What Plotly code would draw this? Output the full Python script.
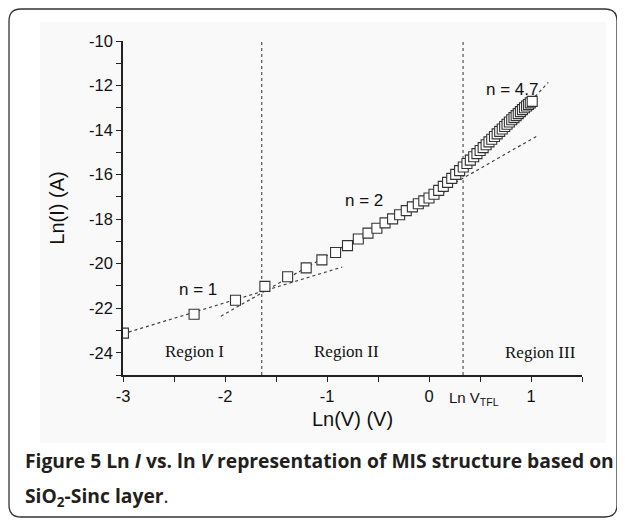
import plotly.graph_objects as go

# ---------------- data ----------------
ln_v = [-2.996, -2.303, -1.897, -1.609, -1.386, -1.204, -1.050, -0.916, -0.799, -0.693,
        -0.598, -0.511, -0.431, -0.357, -0.288, -0.223, -0.163, -0.105, -0.051, 0.000,
        0.049, 0.095, 0.140, 0.182, 0.223, 0.262, 0.300, 0.336, 0.372, 0.405,
        0.438, 0.470, 0.501, 0.531, 0.560, 0.588, 0.615, 0.642, 0.668, 0.693,
        0.718, 0.742, 0.765, 0.788, 0.811, 0.833, 0.854, 0.875, 0.896, 0.916,
        0.936, 0.956, 0.975, 0.993, 1.012]
ln_i = [-23.12, -22.27, -21.64, -21.02, -20.59, -20.19, -19.83, -19.50, -19.19, -18.89,
        -18.63, -18.41, -18.17, -17.99, -17.80, -17.62, -17.45, -17.31, -17.18, -17.05,
        -16.88, -16.71, -16.53, -16.35, -16.17, -15.99, -15.82, -15.66, -15.50, -15.35,
        -15.20, -15.06, -14.92, -14.79, -14.66, -14.53, -14.41, -14.29, -14.17, -14.06,
        -13.95, -13.84, -13.74, -13.64, -13.54, -13.44, -13.35, -13.26, -13.17, -13.08,
        -13.00, -12.92, -12.85, -12.78, -12.71]

fit_n1_x = [-3.0, -0.85]
fit_n1_y = [-23.15, -20.15]
fit_n2_x = [-2.04, 1.07]
fit_n2_y = [-22.36, -14.24]
fit_n47_x = [0.15, 1.17]
fit_n47_y = [-16.80, -11.86]

region_bounds = [-1.64, 0.334]
y_span = [-25, -10]

fit_labels = ["n = 1", "n = 2", "n = 4.7"]
fit_label_x = [-2.26, -0.64, 0.815]
fit_label_y = [-21.14, -17.16, -12.2]

region_labels = ["Region I", "Region II", "Region III"]
region_label_x = [-2.30, -0.81, 1.09]
region_label_y = [-23.95, -23.95, -24.0]

x_tick_vals = [-3, -2, -1, 0, 1]
x_tick_text = ["-3", "-2", "-1", "0", "1"]
y_tick_vals = [-24, -22, -20, -18, -16, -14, -12, -10]
y_tick_text = ["-24", "-22", "-20", "-18", "-16", "-14", "-12", "-10"]

# ---------------- figure ----------------
OFF = 8                      # page body margin offset
W, H = 625, 520
L, T = 123 - OFF, 41 - OFF
pw, ph = 459, 334
R, B = W - L - pw, H - T - ph


def px(x):
    """page x pixel -> paper coordinate"""
    return (x - OFF - L) / pw


def py(y):
    """page y pixel -> paper coordinate"""
    return (T + ph - (y - OFF)) / ph


fig = go.Figure()

dot_style = dict(color="#444", width=1.2, dash="dot")
for xs, ys in [(fit_n1_x, fit_n1_y), (fit_n2_x, fit_n2_y), (fit_n47_x, fit_n47_y)]:
    fig.add_trace(go.Scatter(x=xs, y=ys, mode="lines", line=dot_style,
                             hoverinfo="skip", showlegend=False))

for xb in region_bounds:
    fig.add_trace(go.Scatter(x=[xb, xb], y=y_span, mode="lines",
                             line=dict(color="#555", width=1.2, dash="dot"),
                             hoverinfo="skip", showlegend=False))

fig.add_trace(go.Scatter(
    x=ln_v, y=ln_i, mode="markers",
    marker=dict(symbol="square", size=10, color="white",
                line=dict(color="#333", width=1.1)),
    showlegend=False))

for t, x, y in zip(fit_labels, fit_label_x, fit_label_y):
    fig.add_annotation(x=x, y=y, text=t, showarrow=False,
                       font=dict(family="Liberation Sans, Arial", size=17, color="#111"))
for t, x, y in zip(region_labels, region_label_x, region_label_y):
    fig.add_annotation(x=x, y=y, text=t, showarrow=False,
                       font=dict(family="Liberation Serif, Times New Roman", size=17, color="#111"))

# Ln V_TFL label under the axis
fig.add_annotation(x=px(447), y=py(398), xref="paper", yref="paper",
                   xanchor="left", yanchor="middle", showarrow=False,
                   text="Ln V<sub>TFL</sub>",
                   font=dict(family="Liberation Sans, Arial", size=15, color="#111"))

# Caption
cap_font = dict(family="Open Sans, Noto Sans", size=19.3, color="#231f20")
fig.add_annotation(x=px(23), y=py(460), xref="paper", yref="paper",
                   xanchor="left", yanchor="middle", showarrow=False,
                   text="<b>Figure 5 Ln <i>I</i> vs. ln <i>V</i> representation of MIS structure based on</b>",
                   font=cap_font)
fig.add_annotation(x=px(23), y=py(496), xref="paper", yref="paper",
                   xanchor="left", yanchor="middle", showarrow=False,
                   text="<b>SiO<sub>2</sub>-Sinc layer</b>.",
                   font=cap_font)

# light image background and rounded frame
fig.add_shape(type="rect", xref="paper", yref="paper",
              x0=px(40), x1=px(606), y0=py(443), y1=py(22),
              fillcolor="#f9f9f9", line=dict(width=0), layer="below")

x0, x1, y0, y1, r = px(9), px(617), py(517), py(9), 12
rx, ry = r / pw, r / ph
path = (f"M {x0+rx},{y1} L {x1-rx},{y1} Q {x1},{y1} {x1},{y1-ry} "
        f"L {x1},{y0+ry} Q {x1},{y0} {x1-rx},{y0} L {x0+rx},{y0} "
        f"Q {x0},{y0} {x0},{y0+ry} L {x0},{y1-ry} Q {x0},{y1} {x0+rx},{y1} Z")
fig.add_shape(type="path", xref="paper", yref="paper", path=path,
              line=dict(color="#333", width=1.3), layer="below")

axis_font = dict(family="Liberation Sans, Arial", size=16.5, color="#111")
title_font = dict(family="Liberation Sans, Arial", size=20, color="#111")
fig.update_xaxes(range=[-3, 1.5], tickvals=x_tick_vals, ticktext=x_tick_text,
                 showline=True, linecolor="#222", linewidth=1.5, mirror=False,
                 ticks="outside", ticklen=5, tickwidth=1.2, tickcolor="#222",
                 minor=dict(dtick=0.5, tick0=0, ticks="outside", ticklen=5,
                            tickwidth=1.2, tickcolor="#222", showgrid=False),
                 showgrid=False, zeroline=False, tickfont=axis_font,
                 title=dict(text="Ln(V) (V)", standoff=8, font=title_font))
fig.update_yaxes(range=y_span, tickvals=y_tick_vals, ticktext=y_tick_text,
                 showline=True, linecolor="#222", linewidth=1.5, mirror=False,
                 ticks="outside", ticklen=5, tickwidth=1.2, tickcolor="#222",
                 minor=dict(dtick=1, tick0=0, ticks="outside", ticklen=5,
                            tickwidth=1.2, tickcolor="#222", showgrid=False),
                 showgrid=False, zeroline=False, tickfont=axis_font,
                 title=dict(text="Ln(I) (A)", standoff=19, font=title_font))

fig.update_layout(width=W, height=H, margin=dict(l=L, r=R, t=T, b=B),
                  paper_bgcolor="white", plot_bgcolor="rgba(0,0,0,0)",
                  showlegend=False)

fig.write_html("out.html")
